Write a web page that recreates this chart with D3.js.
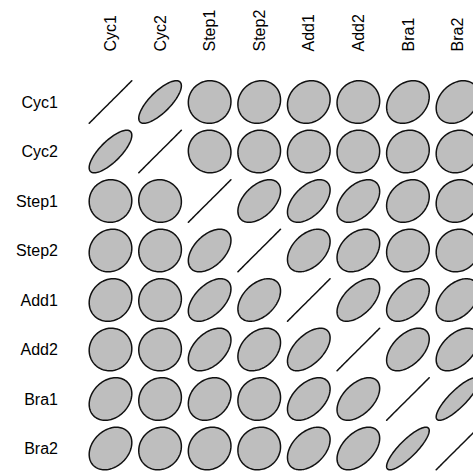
<!DOCTYPE html>
<html>
<head>
<meta charset="utf-8">
<script src="https://cdn.jsdelivr.net/npm/d3@7"></script>
<style>
  html, body { margin: 0; padding: 0; background: #fff; }
  svg { display: block; }
  text { font-family: "Liberation Sans", Arial, sans-serif; font-size: 16px; fill: #000; }
</style>
</head>
<body>
<svg id="chart" width="473" height="471"></svg>
<script>
// Variable names (rows and columns share the same order)
const labels = ["Cyc1", "Cyc2", "Step1", "Step2", "Add1", "Add2", "Bra1", "Bra2"];

// Correlation matrix, one array per row
const rowCyc1  = [1.00, 0.76, 0.02, 0.10, 0.13, 0.04, 0.25, 0.28];
const rowCyc2  = [0.76, 1.00, -0.03, 0.04, 0.05, 0.02, 0.08, 0.10];
const rowStep1 = [0.02, -0.03, 1.00, 0.48, 0.52, 0.45, 0.22, 0.12];
const rowStep2 = [0.10, 0.04, 0.48, 1.00, 0.42, 0.33, 0.08, 0.08];
const rowAdd1  = [0.13, 0.05, 0.52, 0.42, 1.00, 0.55, 0.47, 0.42];
const rowAdd2  = [0.04, 0.02, 0.45, 0.33, 0.55, 1.00, 0.50, 0.48];
const rowBra1  = [0.25, 0.08, 0.22, 0.08, 0.47, 0.50, 1.00, 0.84];
const rowBra2  = [0.28, 0.10, 0.12, 0.08, 0.42, 0.48, 0.84, 1.00];
const corr = [rowCyc1, rowCyc2, rowStep1, rowStep2, rowAdd1, rowAdd2, rowBra1, rowBra2];

const n = labels.length;
const svg = d3.select("#chart");

// Column index 1..n maps left to right, row index 1..n maps top to bottom
const x = d3.scaleLinear().domain([1, n]).range([110.5, 457.5]);
const y = d3.scaleLinear().domain([1, n]).range([102, 448.5]);

// Ellipse outline for a correlation r, inscribed in a box of half-width t (data units)
const t = 0.43;
function ellipsePoints(r, cx, cy) {
  const d = Math.acos(Math.max(-1, Math.min(1, r)));
  const pts = [];
  for (let k = 0; k < 100; k++) {
    const th = (2 * Math.PI * k) / 100;
    const ex = t * Math.cos(th + d / 2);
    const ey = t * Math.cos(th - d / 2);
    pts.push([x(cx + ex), y(cy - ey)]);
  }
  return pts;
}

const cells = [];
corr.forEach((row, i) => row.forEach((r, j) => cells.push({ i: i + 1, j: j + 1, r })));

const line = d3.line().curve(d3.curveLinearClosed);

svg.append("g")
  .selectAll("path")
  .data(cells)
  .join("path")
  .attr("d", c => line(ellipsePoints(c.r, c.j, c.i)))
  .attr("fill", c => c.i === c.j ? "none" : "#bebebe")
  .attr("stroke", "#111")
  .attr("stroke-width", 1.5)
  .attr("stroke-linejoin", "round");

// Row labels, right-aligned to the left of the grid
svg.append("g")
  .selectAll("text")
  .data(labels)
  .join("text")
  .attr("x", x(0) - 3)
  .attr("y", (d, i) => y(i + 1))
  .attr("dy", "0.35em")
  .attr("text-anchor", "end")
  .text(d => d);

// Column labels, rotated, reading upward from above the grid
svg.append("g")
  .selectAll("text")
  .data(labels)
  .join("text")
  .attr("transform", (d, i) => `translate(${x(i + 1)},${y(0) - 1}) rotate(-90)`)
  .attr("dy", "0.35em")
  .attr("text-anchor", "start")
  .text(d => d);
</script>
</body>
</html>
